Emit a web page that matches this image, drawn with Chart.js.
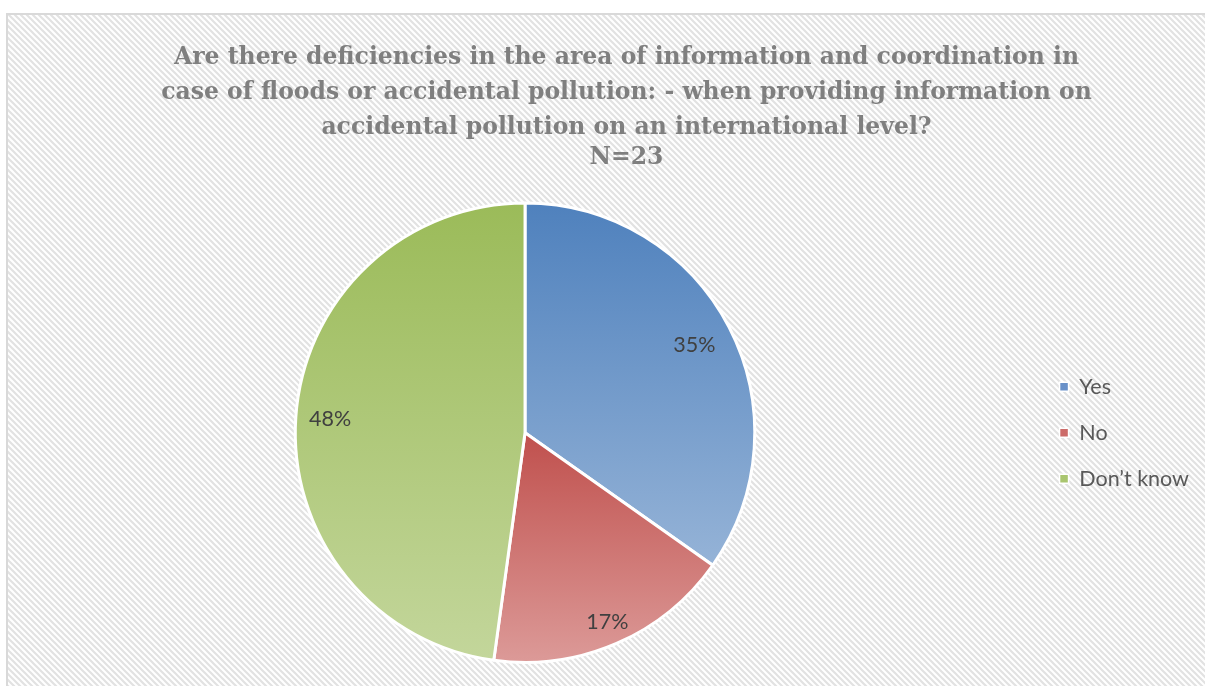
<!DOCTYPE html>
<html>
<head>
<meta charset="utf-8">
<title>Deficiencies in information and coordination</title>
<script src="https://cdn.jsdelivr.net/npm/chart.js@4/dist/chart.umd.min.js"></script>
<style>
    html, body {
        margin: 0;
        padding: 0;
        background: #fff;
        overflow: hidden;
    }

    body {
        position: relative;
        width: 1205px;
        height: 686px;
    }

    .chart-container {
        position: absolute;
        left: 0;
        top: 0;
        width: 1205px;
        height: 686px;
    }

    .chart-title {
        position: absolute;
        z-index: 2;
        left: 8px;
        width: 1237px;
        top: 39px;
        text-align: center;
        font-family: "DejaVu Serif", serif;
        font-weight: bold;
        font-size: 23.5px;
        line-height: 35px;
        color: #7f7f7f;
    }

    .chart-title .count {
        line-height: 25px;
    }
</style>
</head>
<body>
<div class="chart-container">
    <canvas id="answersChart"></canvas>
</div>
<div class="chart-title">
    <div>Are there deficiencies in the area of information and coordination in<br>case of floods or accidental pollution: - when providing information on<br>accidental pollution on an international level?</div>
    <div class="count">N=23</div>
</div>

<script>
// Survey answers (number of respondents)
const answers = ['Yes', 'No', 'Don’t know'];
const respondents = [8, 4, 11];

// Top and bottom colour of each slice's gradient, plus the legend swatch
const sliceTop = ['#4f81bd', '#c0504d', '#9bbb59'];
const sliceBottom = ['#95b3d7', '#dc9a98', '#c3d69b'];
const swatch = ['#6890c8', '#cc6b69', '#a9c56f'];

const BORDER = 3;

// Small tile with a diagonal hatch, repeated over the chart background
function hatchPattern(ctx) {
    const tile = document.createElement('canvas');
    tile.width = 6;
    tile.height = 6;
    const t = tile.getContext('2d');
    t.fillStyle = '#ffffff';
    t.fillRect(0, 0, 6, 6);
    t.strokeStyle = '#e2e2e2';
    t.lineWidth = 2.2;
    t.beginPath();
    for (let o = -6; o <= 6; o += 6) {
        t.moveTo(o - 1, -1);
        t.lineTo(o + 7, 7);
    }
    t.stroke();
    return ctx.createPattern(tile, 'repeat');
}

const chartFrame = {
    id: 'chartFrame',
    beforeDraw(chart) {
        const ctx = chart.ctx;
        ctx.save();
        ctx.fillStyle = '#ffffff';
        ctx.fillRect(0, 0, chart.width, chart.height);
        ctx.fillStyle = hatchPattern(ctx);
        ctx.fillRect(7, 14, chart.width + 40, chart.height);
        ctx.strokeStyle = '#d9d9d9';
        ctx.lineWidth = 2;
        ctx.strokeRect(7, 14, chart.width + 40, chart.height + 40);
        ctx.restore();
    }
};

// Vertical gradient over the bounding box of one slice
function sliceGradient(context) {
    const chart = context.chart;
    const area = chart.chartArea;
    const i = context.dataIndex;
    if (!area || i === undefined) return sliceTop[i || 0];

    const cx = (area.left + area.right) / 2;
    const cy = (area.top + area.bottom) / 2;
    const r = (Math.min(area.width, area.height) - BORDER) / 2;

    const total = respondents.reduce((a, b) => a + b, 0);
    const before = respondents.slice(0, i).reduce((a, b) => a + b, 0);
    const a0 = -Math.PI / 2 + before / total * Math.PI * 2;
    const a1 = a0 + respondents[i] / total * Math.PI * 2;

    const ys = [cy, cy + r * Math.sin(a0), cy + r * Math.sin(a1)];
    const covers = (a) => {
        for (let k = -1; k <= 2; k++) {
            const t = a + k * Math.PI * 2;
            if (t >= a0 && t <= a1) return true;
        }
        return false;
    };
    if (covers(-Math.PI / 2)) ys.push(cy - r);
    if (covers(Math.PI / 2)) ys.push(cy + r);

    const g = chart.ctx.createLinearGradient(0, Math.min(...ys), 0, Math.max(...ys));
    g.addColorStop(0, sliceTop[i]);
    g.addColorStop(1, sliceBottom[i]);
    return g;
}

// Percentage written inside each slice
const sliceLabels = {
    id: 'sliceLabels',
    afterDatasetsDraw(chart, args, opts) {
        const ctx = chart.ctx;
        const values = chart.data.datasets[0].data;
        const total = values.reduce((a, b) => a + b, 0);
        ctx.save();
        ctx.font = opts.font;
        ctx.fillStyle = opts.color;
        ctx.textAlign = 'center';
        ctx.textBaseline = 'middle';
        chart.getDatasetMeta(0).data.forEach((arc, i) => {
            const p = arc.getProps(['x', 'y', 'startAngle', 'endAngle', 'outerRadius'], true);
            const mid = (p.startAngle + p.endAngle) / 2;
            const dist = p.outerRadius * opts.reach[i];
            const text = Math.round(values[i] / total * 100) + '%';
            ctx.fillText(text, p.x + Math.cos(mid) * dist, p.y + Math.sin(mid) * dist);
        });
        ctx.restore();
    }
};

new Chart(document.getElementById('answersChart'), {
    type: 'pie',
    data: {
        labels: answers,
        datasets: [{
            data: respondents,
            backgroundColor: sliceGradient,
            borderColor: '#ffffff',
            borderWidth: BORDER
        }]
    },
    options: {
        responsive: true,
        maintainAspectRatio: false,
        animation: false,
        events: [],
        layout: {
            padding: { left: 15, right: 6, top: 201.5, bottom: 22 }
        },
        plugins: {
            legend: {
                position: 'right',
                labels: {
                    boxWidth: 9,
                    boxHeight: 9,
                    padding: 24.5,
                    color: '#595959',
                    font: { family: 'Lato', size: 21.5 },
                    generateLabels: (chart) => answers.map((name, i) => ({
                        text: name,
                        fillStyle: swatch[i],
                        strokeStyle: '#ffffff',
                        lineWidth: 1.5,
                        fontColor: '#595959',
                        index: i
                    }))
                }
            },
            tooltip: { enabled: false },
            sliceLabels: {
                font: '21.5px Lato',
                color: '#404040',
                reach: [0.83, 0.9, 0.85]
            }
        }
    },
    plugins: [chartFrame, sliceLabels]
});
</script>
</body>
</html>
